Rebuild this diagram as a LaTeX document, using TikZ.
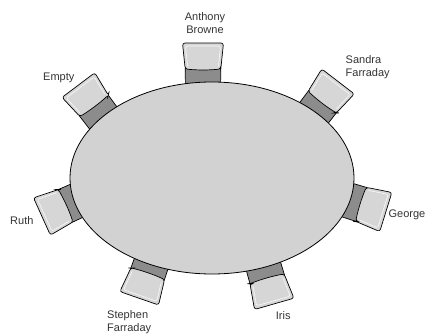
\documentclass[tikz,border=0pt]{standalone}
\usepackage{fontspec}
\setmainfont{Liberation Sans}
\usetikzlibrary{positioning}
\definecolor{seat}{HTML}{D6D6D6}
\definecolor{seatdark}{HTML}{8C8C8C}
\definecolor{tabletop}{HTML}{D2D2D2}
\definecolor{ink}{HTML}{333333}
\tikzset{
  chair/.pic={
    \draw[fill=seatdark, line width=0.7pt] (-8,-17.5) -- (15,-17.8) -- (15,17.8) -- (-8,17.5) -- cycle;
    \draw[fill=seat, line width=0.7pt, rounded corners=2.5pt]
      (14,-17.8) -- (40,-20.5) -- (40,20.5) -- (14,17.8) .. controls (12.8,6) and (12.8,-6) .. cycle;
    % highlight inside the seat
    \draw[white!85!seat, line width=0.6pt, rounded corners=1.5pt] (17,-15.5) -- (37,-17.5) -- (37,17.5) -- (17,15.5);
  },
  guest/.style={font=\fontsize{11}{13}\selectfont, text=ink, inner sep=0pt}
}
\begin{document}
\begin{tikzpicture}[x=1pt,y=1pt]
  \useasboundingbox (0,0) rectangle (426,333);
  % chairs: base point and direction
  \foreach \x/\y/\a in {203/250/90, 102.5/216/127, 313.7/219.8/52.5, 78.4/133/204.3,
                        347.6/132.8/-17.2, 152.3/72.5/-109.1, 263.2/67.6/-74}
    \pic[rotate=\a] at (\x,\y) {chair};
  % table
  \draw[fill=tabletop, line width=0.8pt] (212,155) ellipse (142 and 96);
  % names
  \node[guest, anchor=north, align=center] (anthony) at (205,321) {Anthony\\Browne};
  \node[guest, anchor=base west] (empty) at (43,253) {Empty};
  \node[guest, anchor=north west, align=left] (sandra) at (345.5,278) {Sandra\\Farraday};
  \node[guest, anchor=base west] (ruth) at (10,109) {Ruth};
  \node[guest, anchor=base east] (george) at (425.5,115.3) {George};
  \node[guest, anchor=north west, align=left] (stephen) at (107,23) {Stephen\\Farraday};
  \node[guest, anchor=base west] (iris) at (275.7,13.7) {Iris};
\end{tikzpicture}
\end{document}
